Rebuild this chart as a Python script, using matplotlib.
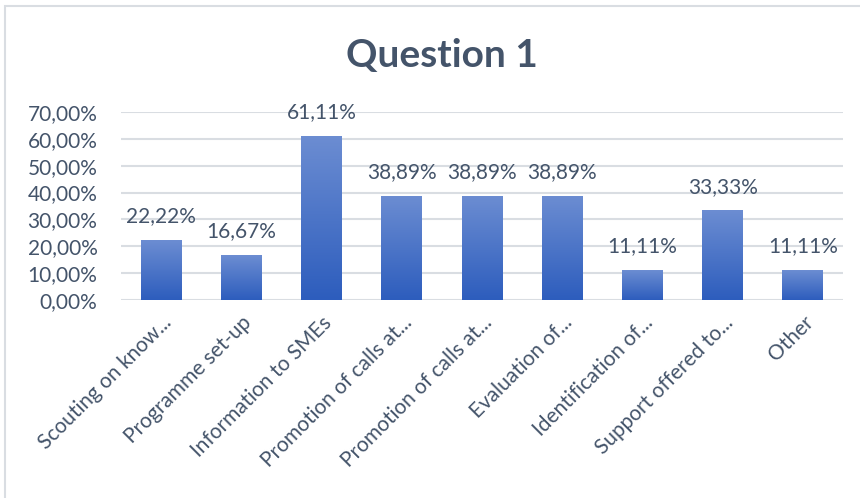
import matplotlib
matplotlib.use("Agg")
import matplotlib.pyplot as plt
import numpy as np
from matplotlib.patches import Rectangle
from matplotlib.colors import LinearSegmentedColormap

# Survey answers, share of respondents
categories = ["Scouting on know...", "Programme set-up", "Information to SMEs",
              "Promotion of calls at...", "Promotion of calls at...", "Evaluation of...",
              "Identification of...", "Support offered to...", "Other"]
values = [0.2222, 0.1667, 0.6111, 0.3889, 0.3889, 0.3889, 0.1111, 0.3333, 0.1111]
yticks = [0.0, 0.1, 0.2, 0.3, 0.4, 0.5, 0.6, 0.7]

text_color = "#44546a"
plt.rcParams["font.family"] = ["Lato", "DejaVu Sans"]

fig = plt.figure(figsize=(8.6, 4.98), dpi=100)
# light frame around the chart (as in the spreadsheet export)
fig.patches.append(Rectangle((5 / 860, -0.1), 1.2, 1 - 6 / 498 + 0.1, transform=fig.transFigure,
                             fill=False, edgecolor="#d9dde2", linewidth=1.5))

ax = fig.add_axes([121 / 860, 1 - 300 / 498, (843 - 121) / 860, (300 - 112) / 498])
x = np.arange(len(categories))
bars = ax.bar(x, values, width=0.51, color="#4472c4", zorder=2)

# vertical gradient inside each bar
cmap = LinearSegmentedColormap.from_list("bar", ["#2d5dbd", "#6c8dd2"])
grad = np.linspace(0, 1, 256).reshape(-1, 1)
for b in bars:
    bx, by = b.get_x(), b.get_y()
    w, h = b.get_width(), b.get_height()
    im = ax.imshow(grad, extent=[bx, bx + w, by, by + h], origin="lower",
                   cmap=cmap, aspect="auto", zorder=3)
    im.set_clip_path(b)

ax.set_xlim(-0.5, len(categories) - 0.5)
ax.set_ylim(0, 0.7)
ax.set_yticks(yticks)
ax.set_yticklabels([f"{v * 100:.2f}%".replace(".", ",") for v in yticks],
                   fontsize=15, color=text_color)
ax.set_xticks(x)
ax.set_xticklabels(categories, rotation=45, ha="right", rotation_mode="anchor",
                   fontsize=15, color=text_color)
ax.tick_params(axis="y", length=0, pad=17)
ax.tick_params(axis="x", length=0, pad=9)
ax.grid(axis="y", color="#d9dde2", linewidth=1.5, zorder=0)
ax.set_axisbelow(True)
for s in ax.spines.values():
    s.set_visible(False)

for xi, v in zip(x, values):
    ax.annotate(f"{v * 100:.2f}%".replace(".", ","), (xi, v), xytext=(0, 10),
                textcoords="offset points", ha="center", va="bottom",
                fontsize=15, color=text_color)

fig.text(442 / 860, 1 - 55 / 498, "Question 1", ha="center", va="center",
         fontsize=28, fontweight="bold", color=text_color)

fig.savefig("out.png", dpi=100)
